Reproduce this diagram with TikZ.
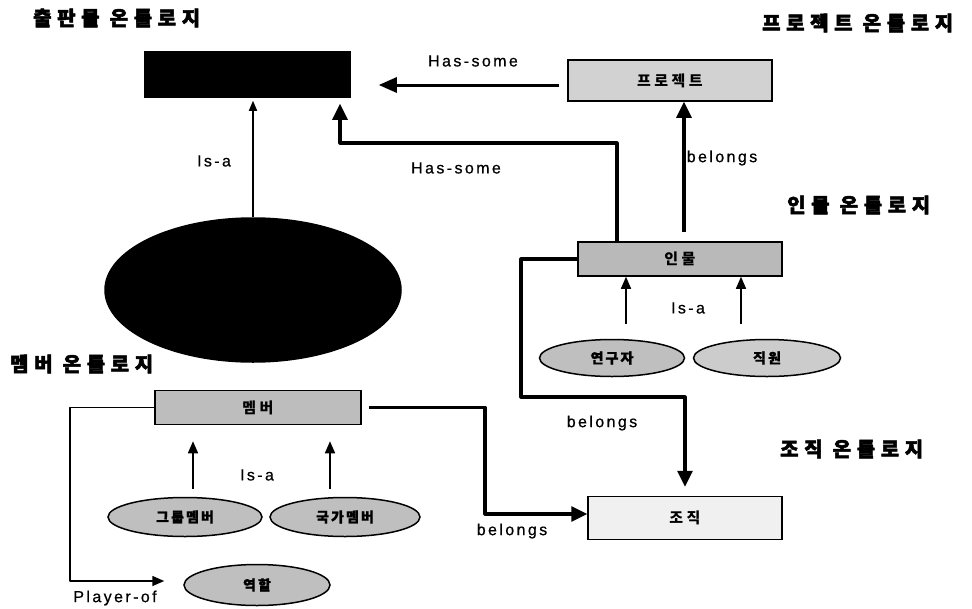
\documentclass[tikz,border=0pt]{standalone}
\usepackage{fontspec}
\setmainfont{Liberation Sans}
\newfontfamily\kr{Noto Sans CJK KR}
\usetikzlibrary{arrows.meta,shapes.geometric}
\tikzset{
  box/.style={draw, line width=1.5pt, inner sep=0pt, font=\kr\bfseries\addfontfeature{LetterSpace=23}\fontsize{15}{15}\selectfont},
  oval/.style={ellipse, draw, line width=1.5pt, inner sep=0pt, fill=gray!50, font=\kr\bfseries\addfontfeature{LetterSpace=15,FakeBold=1}\fontsize{14}{14}\selectfont},
  title/.style={anchor=west, inner sep=0pt, font=\kr\bfseries\addfontfeature{LetterSpace=28,FakeBold=2.5}\fontsize{20}{20}\selectfont},
  lbl/.style={font=\addfontfeature{LetterSpace=15,FakeBold=0.6}\fontsize{16}{16}\selectfont},
  thin/.style={line width=1.5pt, -{Triangle[length=12pt,width=10pt]}},
  mid/.style={line width=3pt, -{Triangle[length=18pt,width=15pt]}},
  thick/.style={line width=3.2pt, line join=round, -{Triangle[length=16pt,width=15pt]}}
}
\begin{document}
\begin{tikzpicture}[x=1pt,y=-1pt]
\useasboundingbox[fill=white] (0,0) rectangle (972,608);

% titles
\node[title] (t1) at (33,18) {출판물 온톨로지};
\node[title] (t2) at (762,23) {프로젝트 온톨로지};
\node[title] (t3) at (787,205) {인물 온톨로지};
\node[title] (t4) at (10,364) {멤버 온톨로지};
\node[title] (t5) at (780,449) {조직 온톨로지};

% boxes
\node[box, fill=black, minimum width=205pt, minimum height=45pt] (pub) at (247.5,74.5) {};
\node[box, fill=gray!35, minimum width=204pt, minimum height=41pt] (proj) at (670,80.5) {프로젝트};
\node[box, fill=gray!55, minimum width=204pt, minimum height=34pt] (inmul) at (680,259) {인물};
\node[box, fill=gray!12, minimum width=194pt, minimum height=43pt] (jojik) at (685,518) {조직};
\node[box, fill=gray!52, minimum width=206pt, minimum height=34pt] (member) at (258,407.5) {멤버};

% ellipses
\node[oval, fill=black, minimum width=296pt, minimum height=144pt] (pubell) at (253,290) {};
\node[oval, minimum width=145pt, minimum height=37pt] (yeongu) at (612,358) {연구자};
\node[oval, fill=gray!40, minimum width=147pt, minimum height=37pt] (jikwon) at (767,358) {직원};
\node[oval, minimum width=154pt, minimum height=39pt] (group) at (185,517) {그룹멤버};
\node[oval, minimum width=150pt, minimum height=39pt] (gukga) at (345,517) {국가멤버};
\node[oval, minimum width=146pt, minimum height=41pt] (yeokhal) at (257,585) {역할};

% helper coordinates
\coordinate (hs) at (340,143);
\coordinate (b1) at (521,397);
\coordinate (b2) at (485,514);
\coordinate (p1) at (70,581);

% connectors
\draw[thin, -{Triangle[length=10pt,width=8pt]}, shorten >=3pt] (pubell.north) -- (pubell.north |- pub.south);
\draw[mid, shorten <=8pt, shorten >=28pt] ([yshift=-4.5pt]proj.west) -- ([yshift=-4.5pt]proj.west -| pub.east);
\draw[thick, shorten >=6pt] ([xshift=-63pt]inmul.north) |- (hs) -- (hs |- pub.south);
\draw[thick, shorten <=9pt] ([xshift=4pt]inmul.north) -- ([xshift=4pt]inmul.north |- proj.south);
\draw[thin, shorten <=15pt] ([xshift=14pt]yeongu.north) -- ([xshift=14pt]yeongu.north |- inmul.south);
\draw[thin, shorten <=15pt] ([xshift=-26pt]jikwon.north) -- ([xshift=-26pt]jikwon.north |- inmul.south);
\draw[thick, shorten >=9pt] (inmul.west) -| (b1) -| (jojik.north);
\draw[thin, shorten <=8pt, shorten >=16pt] ([xshift=8pt]group.north) -- ([xshift=8pt]group.north |- member.south);
\draw[thin, shorten <=8pt, shorten >=16pt] ([xshift=-15pt]gukga.north) -- ([xshift=-15pt]gukga.north |- member.south);
\draw[thin, line join=round, shorten >=19pt] (member.west) -| (p1) -- (p1 -| yeokhal.west);
\draw[thick, shorten <=7pt] (member.east) -| (b2) -- (b2 -| jojik.west);

% labels
\node[lbl] (l1) at (214,161) {Is-a};
\node[lbl] (l2) at (473,61) {Has-some};
\node[lbl] (l3) at (456,168) {Has-some};
\node[lbl] (l4) at (722,158) {belongs};
\node[lbl] (l5) at (688,308) {Is-a};
\node[lbl] (l6) at (602,423) {belongs};
\node[lbl] (l7) at (512,531) {belongs};
\node[lbl] (l8) at (257,475) {Is-a};
\node[lbl] (l9) at (115,598) {Player-of};
\end{tikzpicture}
\end{document}
